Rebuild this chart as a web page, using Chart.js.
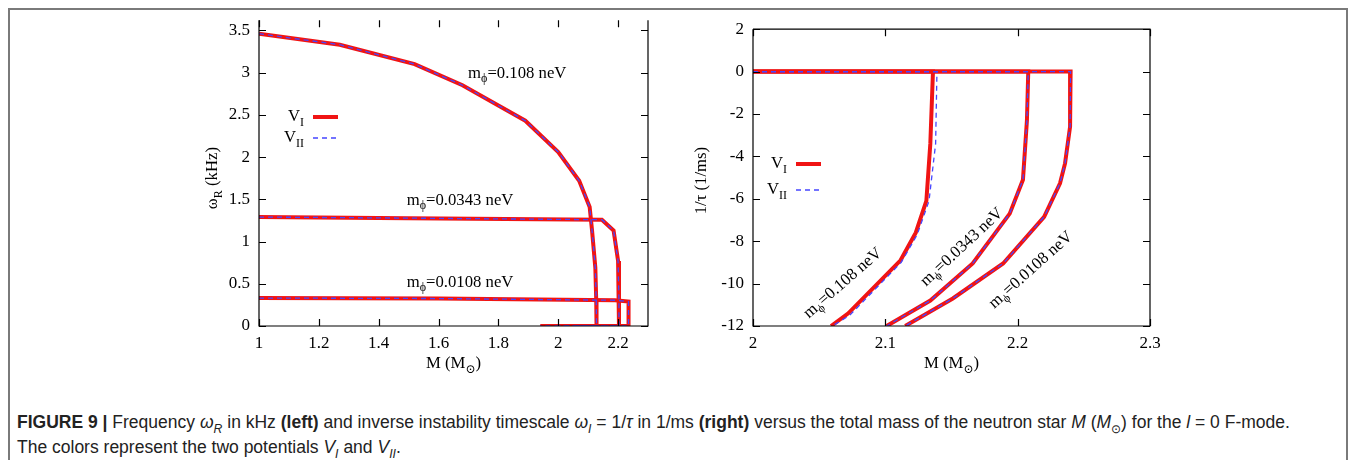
<!DOCTYPE html>
<html>
<head>
<meta charset="utf-8">
<script src="https://cdn.jsdelivr.net/npm/chart.js@4.4.1/dist/chart.umd.min.js"></script>
<style>
body{margin:0;background:#fff;width:1354px;height:460px;overflow:hidden;position:relative}
#frame{position:absolute;left:8px;top:8px;width:1336px;height:480px;border:2px solid #7a7a7a;border-bottom:none}
#left{position:absolute;left:180px;top:1px}
#right{position:absolute;left:680px;top:10px}
#cap{position:absolute;left:17px;top:410px;font-family:'Liberation Sans Narrow','Liberation Sans',sans-serif;font-size:17.5px;line-height:25px;color:#222;white-space:nowrap}
#cap sub{font-size:70%;line-height:0}
</style>
</head>
<body>
<div id="frame"></div>
<div id="left"><canvas id="c1" width="480" height="389"></canvas></div>
<div id="right"><canvas id="c2" width="490" height="380"></canvas></div>
<div id="cap"><b>FIGURE 9 |</b> Frequency <i>ω<sub>R</sub></i> in kHz <b>(left)</b> and inverse instability timescale <i>ω<sub>I</sub></i> = 1/<i>τ</i> in 1/ms <b>(right)</b> versus the total mass of the neutron star <i>M</i> (<i>M</i><sub>⊙</sub>) for the <i>l</i> = 0 F-mode.<br>The colors represent the two potentials <i>V<sub>I</sub></i> and <i>V<sub>II</sub></i>.</div>
<script>
// left panel: omega_R (kHz) vs M
var massL108   = [1, 1.27, 1.52, 1.68, 1.89, 2.0, 2.07, 2.105, 2.113, 2.124, 2.127, 2.128, 1.94];
var omegaL108  = [3.46, 3.33, 3.10, 2.85, 2.43, 2.06, 1.72, 1.41, 1.13, 0.69, 0.30, 0, 0];
var massL0343  = [1, 1.5, 2.146, 2.185, 2.200, 2.203, 2.203, 2.0];
var omegaL0343 = [1.29, 1.277, 1.258, 1.13, 0.77, 0.30, 0, 0];
var massL0108  = [1, 1.6, 2.19, 2.235, 2.235, 2.05];
var omegaL0108 = [0.331, 0.325, 0.305, 0.29, 0, 0];

// right panel: 1/tau (1/ms) vs M
var massR108    = [2, 2.136, 2.134, 2.131, 2.123, 2.1115, 2.072, 2.059];
var tauR108     = [0, 0, -3.4, -6.1, -7.6, -8.9, -11.4, -12];
var massR108b   = [2, 2.139, 2.138, 2.133, 2.124, 2.112, 2.073, 2.060];
var tauR108b    = [0, 0, -3.4, -6.1, -7.7, -9.0, -11.5, -12];
var massR0343   = [2, 2.208, 2.207, 2.204, 2.194, 2.166, 2.134, 2.101];
var tauR0343    = [0, 0, -2.3, -5.1, -6.7, -9.05, -10.8, -12];
var massR0108   = [2, 2.240, 2.2396, 2.2358, 2.232, 2.220, 2.189, 2.151, 2.115];
var tauR0108    = [0, 0, -2.6, -4.33, -5.27, -6.85, -9.05, -10.7, -12];

var RED = 'rgb(240,20,20)', BLUE = 'rgb(70,70,255)';
var FONT = '"Liberation Serif", "DejaVu Serif", serif';
var TXT = 16.7;

function pts(xs, ys) {
  return xs.map(function(x, i) { return {x: x, y: ys[i]}; });
}
function redLine(xs, ys) {
  return {data: pts(xs, ys), showLine: true, borderColor: RED, borderWidth: 4, pointRadius: 0, order: 2, tension: 0};
}
function blueLine(xs, ys) {
  return {data: pts(xs, ys), showLine: true, borderColor: BLUE, borderWidth: 1.3, borderDash: [5, 4], pointRadius: 0, order: 1, tension: 0};
}
function fmt(v) { return String(+v.toFixed(2)); }

// text with subscripts, parts = [[text, isSub], ...]
function drawRich(ctx, parts, x, y, size, align) {
  var sub = size * 0.72, w = 0;
  parts.forEach(function(p) {
    ctx.font = (p[1] ? sub : size) + 'px ' + FONT;
    w += ctx.measureText(p[0]).width;
  });
  var cx = align == 'center' ? x - w / 2 : (align == 'right' ? x - w : x);
  ctx.textAlign = 'left';
  ctx.textBaseline = 'middle';
  ctx.fillStyle = '#000';
  parts.forEach(function(p) {
    ctx.font = (p[1] ? sub : size) + 'px ' + FONT;
    ctx.fillText(p[0], cx, p[1] ? y + size * 0.32 : y);
    cx += ctx.measureText(p[0]).width;
  });
}

function makeDecor(cfg) {
  return {
    id: 'decor',
    afterDatasetsDraw: function(chart) {
      var ctx = chart.ctx, a = chart.chartArea, sx = chart.scales.x, sy = chart.scales.y;
      ctx.save();
      ctx.strokeStyle = '#000';
      ctx.lineWidth = 1.2;
      // frame
      ctx.beginPath();
      ctx.moveTo(a.left, a.top); ctx.lineTo(a.left, a.bottom);
      ctx.lineTo(a.right, a.bottom); ctx.lineTo(a.right, a.top);
      if (cfg.topLine) ctx.lineTo(a.left, a.top);
      ctx.stroke();
      // inward ticks
      ctx.beginPath();
      sx.ticks.forEach(function(t) {
        var px = Math.round(sx.getPixelForValue(t.value)) + 0.5;
        ctx.moveTo(px, a.bottom); ctx.lineTo(px, a.bottom - 7);
        ctx.moveTo(px, a.top); ctx.lineTo(px, a.top + 7);
      });
      sy.ticks.forEach(function(t) {
        var py = Math.round(sy.getPixelForValue(t.value)) + 0.5;
        ctx.moveTo(a.left, py); ctx.lineTo(a.left + 7, py);
        ctx.moveTo(a.right, py); ctx.lineTo(a.right - 7, py);
      });
      ctx.stroke();
      // axis titles
      drawRich(ctx, [['M (M', false], ['\u2299', true], [')', false]], (a.left + a.right) / 2, a.bottom + 38, TXT, 'center');
      ctx.save();
      ctx.translate(a.left + cfg.yTitleDx, (a.top + a.bottom) / 2 + cfg.yTitleDy);
      ctx.rotate(-Math.PI / 2);
      drawRich(ctx, cfg.yTitle, 0, 0, TXT, 'center');
      ctx.restore();
      // curve labels
      cfg.labels.forEach(function(l) {
        ctx.save();
        ctx.translate(sx.getPixelForValue(l.x), sy.getPixelForValue(l.y));
        ctx.rotate(l.rot * Math.PI / 180);
        drawRich(ctx, [['m', false], ['\u03D5', true], ['=' + l.text + ' neV', false]], 0, 0, TXT, 'center');
        ctx.restore();
      });
      // key
      var k = cfg.key;
      drawRich(ctx, [['V', false], ['I', true]], k.x, k.y, TXT, 'right');
      drawRich(ctx, [['V', false], ['II', true]], k.x, k.y + k.gap, TXT, 'right');
      ctx.beginPath();
      ctx.strokeStyle = RED; ctx.lineWidth = 4;
      ctx.moveTo(k.x + 9, k.y); ctx.lineTo(k.x + 34, k.y);
      ctx.stroke();
      ctx.beginPath();
      ctx.strokeStyle = BLUE; ctx.lineWidth = 1.3; ctx.setLineDash([5, 4]);
      ctx.moveTo(k.x + 9, k.y + k.gap); ctx.lineTo(k.x + 34, k.y + k.gap);
      ctx.stroke();
      ctx.restore();
    }
  };
}

function axes(xmin, xmax, xstep, ymin, ymax, ystep, yw) {
  var tickFont = {family: FONT, size: 17};
  return {
    x: {type: 'linear', min: xmin, max: xmax,
        ticks: {stepSize: xstep, includeBounds: false, color: '#000', font: tickFont, padding: 7, callback: fmt, maxRotation: 0},
        grid: {display: true, drawOnChartArea: false, drawTicks: false},
        border: {display: false},
        afterFit: function(s) { s.height = 64; }},
    y: {type: 'linear', min: ymin, max: ymax,
        ticks: {stepSize: ystep, includeBounds: false, color: '#000', font: tickFont, padding: 9, callback: fmt},
        grid: {display: true, drawOnChartArea: false, drawTicks: false},
        border: {display: false},
        afterFit: function(s) { s.width = yw; }}
  };
}

var common = {
  responsive: false, animation: false,
  plugins: {legend: {display: false}, tooltip: {enabled: false}}
};

new Chart(document.getElementById('c1'), {
  type: 'scatter',
  data: {datasets: [
    redLine(massL108, omegaL108), blueLine(massL108, omegaL108),
    redLine(massL0343, omegaL0343), blueLine(massL0343, omegaL0343),
    redLine(massL0108, omegaL0108), blueLine(massL0108, omegaL0108)
  ]},
  options: Object.assign({}, common, {
    layout: {padding: {top: 10, right: 12, left: 0, bottom: 0}},
    scales: axes(1, 2.3, 0.2, 0, 3.62, 0.5, 79)
  }),
  plugins: [makeDecor({
    topLine: false, yTitleDx: -46, yTitleDy: 5,
    yTitle: [['\u03C9', false], ['R', true], [' (kHz)', false]],
    key: {x: 124, y: 116, gap: 21},
    labels: [
      {x: 1.863, y: 2.99, rot: 0, text: '0.108'},
      {x: 1.672, y: 1.487, rot: 0, text: '0.0343'},
      {x: 1.672, y: 0.517, rot: 0, text: '0.0108'}
    ]
  })]
});

new Chart(document.getElementById('c2'), {
  type: 'scatter',
  data: {datasets: [
    redLine(massR108, tauR108), blueLine(massR108b, tauR108b),
    redLine(massR0343, tauR0343), blueLine(massR0343, tauR0343),
    redLine(massR0108, tauR0108), blueLine(massR0108, tauR0108)
  ]},
  options: Object.assign({}, common, {
    layout: {padding: {top: 19, right: 20, left: 0, bottom: 0}},
    scales: axes(2, 2.3, 0.1, -12, 2, 2, 73)
  }),
  plugins: [makeDecor({
    topLine: true, yTitleDx: -51, yTitleDy: 3,
    yTitle: [['1/\u03C4 (1/ms)', false]],
    key: {x: 107, y: 154, gap: 26},
    labels: [
      {x: 2.0679, y: -9.98, rot: -41, text: '0.108'},
      {x: 2.1579, y: -8.28, rot: -43, text: '0.0343'},
      {x: 2.210, y: -9.36, rot: -42, text: '0.0108'}
    ]
  })]
});
</script>
</body>
</html>
